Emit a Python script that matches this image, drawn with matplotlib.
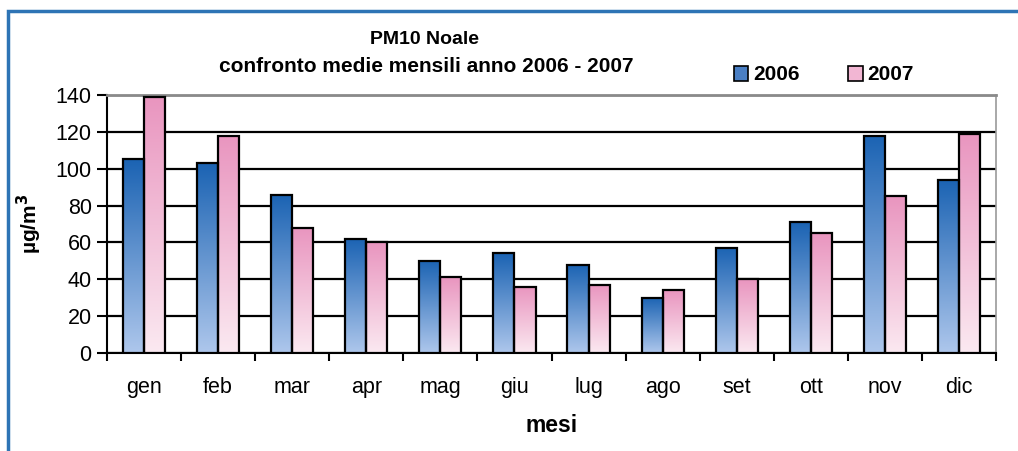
import numpy as np
import matplotlib
matplotlib.use("Agg")
import matplotlib.pyplot as plt
from matplotlib.colors import LinearSegmentedColormap
from matplotlib.patches import Rectangle

plt.rcParams['font.family'] = ['Liberation Sans', 'DejaVu Sans']

# monthly means of PM10 at Noale (ug/m3)
months = ["gen", "feb", "mar", "apr", "mag", "giu", "lug", "ago", "set", "ott", "nov", "dic"]
pm10_2006 = [105, 103, 86, 62, 50, 54, 48, 30, 57, 71, 118, 94]
pm10_2007 = [139, 118, 68, 60, 41, 36, 37, 34, 40, 65, 85, 119]
years = ["2006", "2007"]

# gradients: dark at top, light at bottom
blue_cmap = LinearSegmentedColormap.from_list("blu", ["#aec7ec", "#1b63b3"])
pink_cmap = LinearSegmentedColormap.from_list("rosa", ["#fbe9f1", "#e995bf"])

fig = plt.figure(figsize=(10.18, 4.51), dpi=100)
ax = fig.add_axes([0.1051, 0.2173, 0.8733, 0.5721])

x = np.arange(len(months))
w = 0.285
grad = np.linspace(0, 1, 256).reshape(-1, 1)


def gradient_bars(xpos, values, cmap):
    bars = ax.bar(xpos, values, w, facecolor="none", edgecolor="black",
                  linewidth=1.6, zorder=4)
    for b in bars:
        x0, y0 = b.get_x(), b.get_y()
        im = ax.imshow(grad, cmap=cmap, origin="lower", aspect="auto",
                       extent=[x0, x0 + b.get_width(), y0, y0 + b.get_height()],
                       zorder=3)
        im.set_clip_path(b)
    return bars


gradient_bars(x - w / 2, pm10_2006, blue_cmap)
gradient_bars(x + w / 2, pm10_2007, pink_cmap)

ax.set_xlim(-0.5, len(months) - 0.5)
ax.set_ylim(0, 140)

ax.set_yticks(range(0, 141, 20))
ax.grid(axis="y", color="black", linewidth=1.6)
ax.set_axisbelow(True)
ax.tick_params(axis="y", direction="out", length=7, width=1.5, labelsize=15.5, pad=4)

ax.set_xticks(x)
ax.set_xticklabels(months, fontsize=15.5)
ax.set_xticks(np.arange(-0.5, len(months)), minor=True)
ax.tick_params(axis="x", which="major", length=0, pad=17)
ax.tick_params(axis="x", which="minor", length=6, width=1.5)

ax.spines["left"].set_linewidth(1.5)
ax.spines["bottom"].set_linewidth(1.5)
ax.spines["top"].set_color("#8a8a8a")
ax.spines["top"].set_linewidth(2)
ax.spines["right"].set_color("#9a9a9a")
ax.spines["right"].set_linewidth(1.2)

ax.set_xlabel("mesi", fontsize=16.5, fontweight="bold", labelpad=12)
ax.set_ylabel("µg/m$^\\mathbf{3}$", fontsize=15, fontweight="bold", labelpad=8)

fig.text(425 / 1018, 1 - 40 / 451, "PM10 Noale", ha="center", va="center",
         fontsize=14, fontweight="bold")
fig.text(426 / 1018, 1 - 67 / 451, "confronto medie mensili anno 2006 - 2007",
         ha="center", va="center", fontsize=15, fontweight="bold")

# legend
leg_handles = [Rectangle((0, 0), 1, 1, facecolor=c, edgecolor="black", linewidth=1.2)
               for c in ["#4a7fc4", "#f2b6d3"]]
fig.legend(leg_handles, years, loc="center left", ncol=2, frameon=False,
           bbox_to_anchor=(715 / 1018, 1 - 75 / 451), handlelength=0.7,
           handleheight=0.7, handletextpad=0.25, columnspacing=2.3,
           prop={"weight": "bold", "size": 15})

# blue frame around the chart
frame = Rectangle((8 / 1018, -0.1), 1.2, 1 - 11 / 451 + 0.1, transform=fig.transFigure,
                  fill=False, edgecolor="#2e74b5", linewidth=2.5, clip_on=False)
fig.patches.append(frame)

fig.savefig("out.png", dpi=100)
